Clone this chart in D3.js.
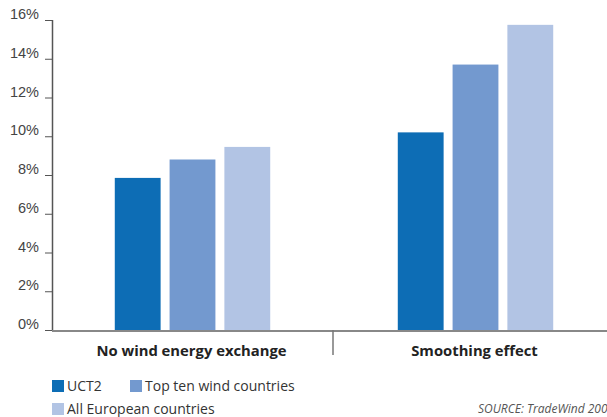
<!DOCTYPE html>
<html>
<head>
<meta charset="utf-8">
<script src="https://cdn.jsdelivr.net/npm/d3@7"></script>
<style>
  body { margin: 0; background: #fff; }
  svg { display: block; font-family: "Open Sans", "DejaVu Sans", sans-serif; }
</style>
</head>
<body>
<div id="chartCtn"></div>
<script>
var categories = [ "No wind energy exchange", "Smoothing effect" ];
var seriesNames = [ "UCT2", "Top ten wind countries", "All European countries" ];
var uct2 = [ 7.85, 10.2 ];
var topTen = [ 8.8, 13.7 ];
var allEurope = [ 9.45, 15.75 ];
var yTicks = [ 0, 2, 4, 6, 8, 10, 12, 14, 16 ];
var colors = [ "#0d6db5", "#7399cf", "#b2c4e4" ];

var chartW = 607, chartH = 417;
var marginLeft = 52, axisY = 330, marginTop = 20;

var series = [ uct2, topTen, allEurope ];

var svg = d3.select( "#chartCtn" ).append( "svg" )
	.attr( "width", chartW )
	.attr( "height", chartH );

var x0 = d3.scaleBand()
	.domain( categories )
	.range( [ 51, 617 ] )
	.paddingInner( 0 );

var x1 = d3.scaleBand()
	.domain( d3.range( seriesNames.length ) )
	.range( [ 0, x0.bandwidth() ] )
	.paddingInner( 9 / 55 )
	.paddingOuter( 1.164 );

var y = d3.scaleLinear()
	.domain( [ 0, 16 ] )
	.range( [ axisY, marginTop ] );

// bars
var groups = svg.selectAll( "g.cat" )
	.data( categories )
	.enter()
	.append( "g" )
	.attr( "class", "cat" )
	.attr( "transform", d => `translate(${ x0( d ) },0)` );

groups.selectAll( "rect" )
	.data( ( d, ci ) => series.map( ( s, si ) => ( { si: si, value: s[ ci ] } ) ) )
	.enter()
	.append( "rect" )
	.attr( "x", d => x1( d.si ) )
	.attr( "y", d => y( d.value ) )
	.attr( "width", x1.bandwidth() )
	.attr( "height", d => y( 0 ) - y( d.value ) )
	.attr( "fill", d => colors[ d.si ] );

// y axis
var yAxis = svg.append( "g" )
	.attr( "transform", `translate(${ marginLeft },0)` )
	.call( d3.axisLeft( y ).tickValues( yTicks ).tickFormat( d => d + "%" ).tickSize( 7 ).tickPadding( 6 ) );
yAxis.select( ".domain" ).attr( "stroke", "#555" ).attr( "stroke-width", 1.5 ).attr( "d", `M0.5,${ marginTop }V${ axisY }` );
yAxis.selectAll( ".tick line" ).attr( "stroke", "#555" );
yAxis.selectAll( ".tick text" )
	.attr( "fill", "#444" )
	.style( "font-size", "14.5px" )
	.attr( "dy", "-0.1em" );

// x axis
svg.append( "line" )
	.attr( "x1", marginLeft ).attr( "x2", chartW )
	.attr( "y1", axisY + 1 ).attr( "y2", axisY + 1 )
	.attr( "stroke", "#888" ).attr( "stroke-width", 2 );

svg.append( "line" )
	.attr( "x1", x0( categories[ 1 ] ) - 1 ).attr( "x2", x0( categories[ 1 ] ) - 1 )
	.attr( "y1", axisY ).attr( "y2", 355 )
	.attr( "stroke", "#777" ).attr( "stroke-width", 1.5 );

svg.selectAll( "text.cat" )
	.data( categories )
	.enter()
	.append( "text" )
	.attr( "class", "cat" )
	.attr( "x", d => x0( d ) + x0.bandwidth() / 2 - 1 )
	.attr( "y", 356 )
	.attr( "text-anchor", "middle" )
	.style( "font-size", "14.8px" )
	.style( "font-weight", "bold" )
	.attr( "fill", "#222" )
	.text( d => d );

// legend
var legendPos = [ [ 52, 380 ], [ 130, 380 ], [ 52, 403 ] ];
var legend = svg.selectAll( "g.legend" )
	.data( seriesNames )
	.enter()
	.append( "g" )
	.attr( "class", "legend" )
	.attr( "transform", ( d, i ) => `translate(${ legendPos[ i ][ 0 ] },${ legendPos[ i ][ 1 ] })` );
legend.append( "rect" )
	.attr( "width", 12 ).attr( "height", 12 )
	.attr( "fill", ( d, i ) => colors[ i ] );
legend.append( "text" )
	.attr( "x", 15 ).attr( "y", 11 )
	.style( "font-size", "14px" )
	.attr( "fill", "#333" )
	.text( d => d );

svg.append( "text" )
	.attr( "x", 478 ).attr( "y", 413 )
	.style( "font-size", "12px" )
	.style( "font-style", "italic" )
	.attr( "fill", "#555" )
	.text( "SOURCE: TradeWind 2009" );
</script>
</body>
</html>
